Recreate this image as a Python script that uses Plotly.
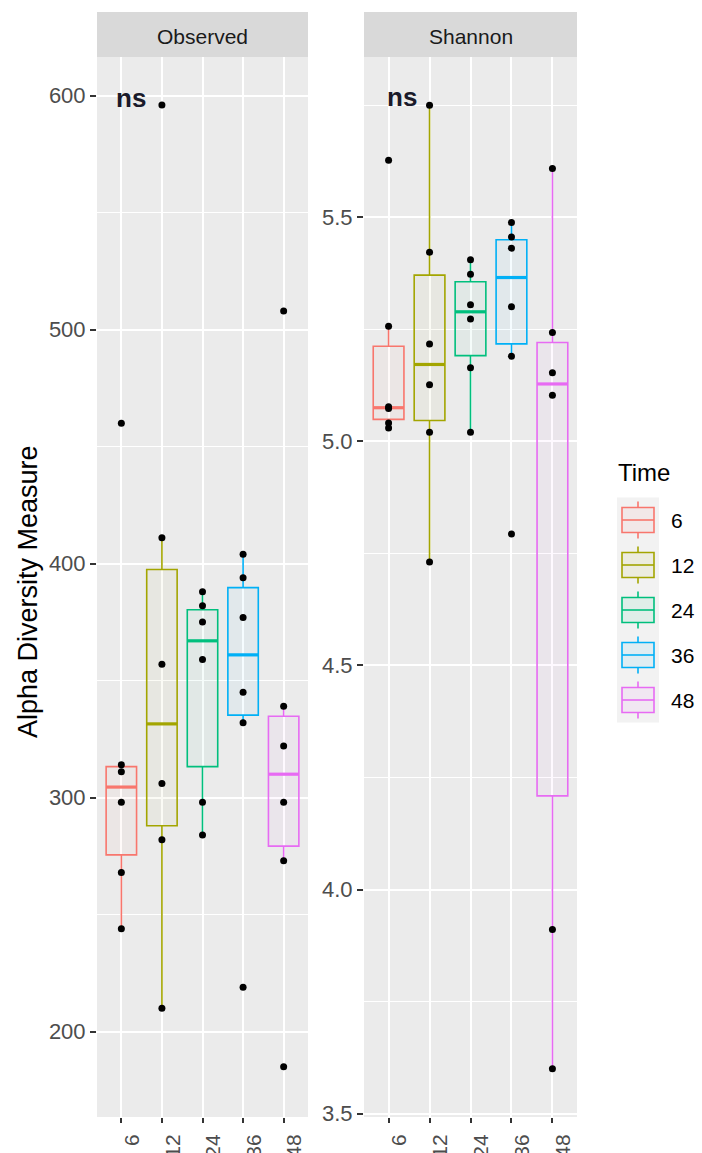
import numpy as np
import plotly.graph_objects as go

# Sampling times (hours) and per-sample alpha diversity values
times = ["6", "12", "24", "36", "48"]
colors = ["#F8766D", "#A3A500", "#00BF7D", "#00B0F6", "#E76BF3"]

observed_6 = [460, 314, 311, 298, 268, 244]
observed_12 = [596, 411, 357, 306, 282, 210]
observed_24 = [388, 382, 375, 359, 298, 284]
observed_36 = [404, 394, 377, 345, 332, 219]
observed_48 = [508, 339, 322, 298, 273, 185]

shannon_6 = [5.627, 5.257, 5.077, 5.073, 5.041, 5.030]
shannon_12 = [5.750, 5.422, 5.217, 5.126, 5.020, 4.731]
shannon_24 = [5.405, 5.373, 5.305, 5.273, 5.164, 5.020]
shannon_36 = [5.488, 5.456, 5.431, 5.300, 5.190, 4.793]
shannon_48 = [5.609, 5.243, 5.153, 5.103, 3.911, 3.600]

observed = [observed_6, observed_12, observed_24, observed_36, observed_48]
shannon = [shannon_6, shannon_12, shannon_24, shannon_36, shannon_48]

W, H = 702, 1153
FONT = "Liberation Sans, Arial, sans-serif"


def px(x):
    return x / W


def py(y):
    return 1 - y / H


def rgba(hex_color, a):
    h = hex_color.lstrip("#")
    r, g, b = int(h[0:2], 16), int(h[2:4], 16), int(h[4:6], 16)
    return f"rgba({r},{g},{b},{a})"


def box_stats(vals):
    v = np.sort(np.asarray(vals, dtype=float))
    q1, med, q3 = np.percentile(v, [25, 50, 75])
    iqr = q3 - q1
    lo = v[v >= q1 - 1.5 * iqr].min()
    hi = v[v <= q3 + 1.5 * iqr].max()
    return q1, med, q3, lo, hi


fig = go.Figure()

panels = [(observed, "x", "y"), (shannon, "x2", "y2")]
BOX_W = 0.75
for series, xa, ya in panels:
    for i, vals in enumerate(series):
        pos = i + 1
        q1, med, q3, lo, hi = box_stats(vals)
        fig.add_trace(go.Box(
            x=[pos], q1=[q1], median=[med], q3=[q3],
            lowerfence=[lo], upperfence=[hi],
            boxpoints=False, width=BOX_W, whiskerwidth=0,
            line=dict(color=colors[i], width=1.6),
            fillcolor=rgba(colors[i], 0.04),
            xaxis=xa, yaxis=ya, showlegend=False, hoverinfo="skip",
        ))
        # thicker median bar
        fig.add_trace(go.Scatter(
            x=[pos - BOX_W / 2, pos + BOX_W / 2], y=[med, med],
            mode="lines", line=dict(color=colors[i], width=3.2),
            xaxis=xa, yaxis=ya, showlegend=False, hoverinfo="skip",
        ))
    for i, vals in enumerate(series):
        fig.add_trace(go.Scatter(
            x=[i + 1] * len(vals), y=vals, mode="markers",
            marker=dict(color="black", size=7),
            xaxis=xa, yaxis=ya, showlegend=False, hoverinfo="skip",
        ))

# panel geometry (pixels)
L_X0, L_X1 = 97, 308
R_X0, R_X1 = 364, 577
P_TOP, P_BOT = 57, 1117
S_TOP = 12

xaxis_common = dict(
    range=[0.4, 5.6], tickmode="array", tickvals=[1, 2, 3, 4, 5], ticktext=times,
    tickangle=-90, ticks="outside", ticklen=5, tickwidth=1.5, tickcolor="#333333",
    tickfont=dict(family=FONT, size=21, color="#4d4d4d"),
    showgrid=True, gridcolor="white", gridwidth=2, zeroline=False, showline=False,
    automargin=False, ticklabelshift=11, ticklabelstandoff=3, fixedrange=True,
)
yaxis_common = dict(
    ticks="outside", ticklen=6, tickwidth=1.5, tickcolor="#333333",
    tickfont=dict(family=FONT, size=22, color="#4d4d4d"),
    showgrid=True, gridcolor="white", gridwidth=2, zeroline=False, showline=False,
    automargin=False, fixedrange=True,
)

fig.update_layout(
    width=W, height=H,
    margin=dict(l=0, r=0, t=0, b=0),
    paper_bgcolor="white", plot_bgcolor="#ebebeb",
    showlegend=False,
    xaxis=dict(domain=[px(L_X0), px(L_X1)], anchor="y", **xaxis_common),
    xaxis2=dict(domain=[px(R_X0), px(R_X1)], anchor="y2", **xaxis_common),
    yaxis=dict(domain=[py(P_BOT), py(P_TOP)], anchor="x", range=[163.5, 616.5],
               tickvals=[200, 300, 400, 500, 600],
               minor=dict(dtick=50, tick0=0, showgrid=True, gridcolor="white", gridwidth=1, ticks=""),
               **yaxis_common),
    yaxis2=dict(domain=[py(P_BOT), py(P_TOP)], anchor="x2", range=[3.4925, 5.8575],
                tickvals=[3.5, 4.0, 4.5, 5.0, 5.5], ticktext=["3.5", "4.0", "4.5", "5.0", "5.5"],
                minor=dict(dtick=0.25, tick0=0, showgrid=True, gridcolor="white", gridwidth=1, ticks=""),
                **yaxis_common),
)

shapes = []
annotations = []

# facet strips
for x0, x1, label in [(L_X0, L_X1, "Observed"), (R_X0, R_X1, "Shannon")]:
    shapes.append(dict(type="rect", xref="paper", yref="paper",
                       x0=px(x0), x1=px(x1), y0=py(P_TOP), y1=py(S_TOP),
                       fillcolor="#d9d9d9", line=dict(width=0), layer="below"))
    annotations.append(dict(xref="paper", yref="paper", x=px((x0 + x1) / 2), y=py(37),
                            text=label, showarrow=False, xanchor="center", yanchor="middle",
                            font=dict(family=FONT, size=21, color="#1a1a1a")))

# significance labels
annotations.append(dict(xref="x", yref="y", x=0.82, y=599, text="<b>ns</b>", showarrow=False,
                        xanchor="left", yanchor="middle",
                        font=dict(family=FONT, size=26, color="#1a1a2a")))
annotations.append(dict(xref="x2", yref="y2", x=0.91, y=5.768, text="<b>ns</b>", showarrow=False,
                        xanchor="left", yanchor="middle",
                        font=dict(family=FONT, size=26, color="#1a1a2a")))

# y axis title
annotations.append(dict(xref="paper", yref="paper", x=px(28), y=py(592),
                        text="Alpha Diversity Measure", textangle=-90, showarrow=False,
                        xanchor="center", yanchor="middle",
                        font=dict(family=FONT, size=27, color="black")))

# legend
annotations.append(dict(xref="paper", yref="paper", x=px(616), y=py(472), text="Time",
                        showarrow=False, xanchor="left", yanchor="middle",
                        font=dict(family=FONT, size=24, color="black")))
KEY_X0, KEY_X1 = 617, 659
KEY_TOP, KEY_H = 497.5, 45
shapes.append(dict(type="rect", xref="paper", yref="paper",
                   x0=px(KEY_X0), x1=px(KEY_X1), y0=py(KEY_TOP + KEY_H * len(times)), y1=py(KEY_TOP),
                   fillcolor="#f2f2f2", line=dict(width=0)))
for i, (t, c) in enumerate(zip(times, colors)):
    cy = KEY_TOP + KEY_H * (i + 0.5)
    bx0, bx1 = 622, 654
    cx = (bx0 + bx1) / 2
    shapes.append(dict(type="rect", xref="paper", yref="paper",
                       x0=px(bx0), x1=px(bx1), y0=py(cy + 12.5), y1=py(cy - 12.5),
                       fillcolor=rgba(c, 0.08), line=dict(color=c, width=1.6)))
    shapes.append(dict(type="line", xref="paper", yref="paper",
                       x0=px(bx0), x1=px(bx1), y0=py(cy), y1=py(cy),
                       line=dict(color=c, width=1.6)))
    shapes.append(dict(type="line", xref="paper", yref="paper",
                       x0=px(cx), x1=px(cx), y0=py(cy - 12.5), y1=py(cy - 18.5),
                       line=dict(color=c, width=1.6)))
    shapes.append(dict(type="line", xref="paper", yref="paper",
                       x0=px(cx), x1=px(cx), y0=py(cy + 12.5), y1=py(cy + 18.5),
                       line=dict(color=c, width=1.6)))
    annotations.append(dict(xref="paper", yref="paper", x=px(669), y=py(cy), text=t,
                            showarrow=False, xanchor="left", yanchor="middle",
                            font=dict(family=FONT, size=21, color="black")))

fig.update_layout(shapes=shapes, annotations=annotations)
fig.write_html("out.html")
